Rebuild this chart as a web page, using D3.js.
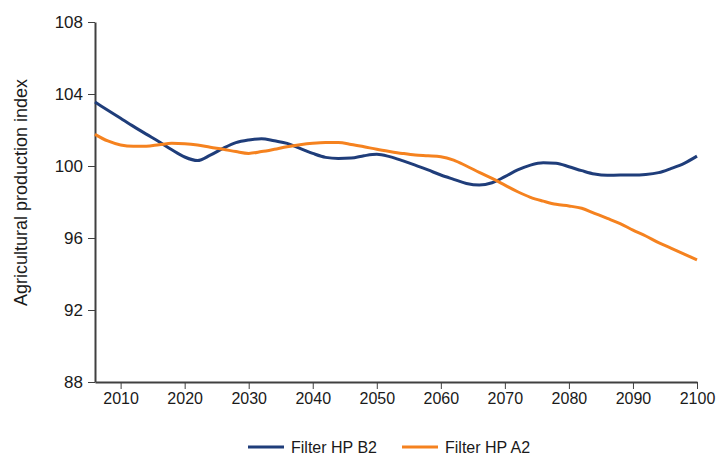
<!DOCTYPE html>
<html>
<head>
<meta charset="utf-8">
<script src="https://cdn.jsdelivr.net/npm/d3@7"></script>
<style>
  body { margin: 0; background: #fff; }
  svg { display: block; font-family: "Liberation Sans", Arial, sans-serif; }
</style>
</head>
<body>
<svg id="chart" width="717" height="455"></svg>
<script>
const years = [2006,2008,2010,2012,2014,2016,2018,2020,2022,2024,2026,2028,2030,2032,2034,2036,2038,2040,2042,2044,2046,2048,2050,2052,2054,2056,2058,2060,2062,2064,2066,2068,2070,2072,2074,2076,2078,2080,2082,2084,2086,2088,2090,2092,2094,2096,2098,2100];
const filterB2 = [103.55,103.1,102.65,102.2,101.77,101.35,100.9,100.5,100.3,100.6,100.98,101.3,101.45,101.52,101.4,101.26,100.98,100.7,100.48,100.42,100.44,100.57,100.65,100.52,100.3,100.05,99.78,99.5,99.26,99.03,98.94,99.07,99.41,99.78,100.05,100.18,100.15,99.96,99.74,99.55,99.48,99.5,99.5,99.53,99.63,99.87,100.15,100.55];
const filterA2 = [101.76,101.39,101.17,101.1,101.1,101.18,101.26,101.24,101.17,101.04,100.93,100.8,100.7,100.8,100.93,101.07,101.18,101.26,101.3,101.3,101.2,101.07,100.93,100.81,100.7,100.61,100.57,100.52,100.33,100.0,99.65,99.31,98.94,98.57,98.26,98.05,97.87,97.78,97.65,97.37,97.09,96.8,96.44,96.11,95.74,95.43,95.11,94.78];
const seriesNames = ["Filter HP B2", "Filter HP A2"];
const seriesColors = ["#1f3d7a", "#f5821f"];
const xTicks = [2010,2020,2030,2040,2050,2060,2070,2080,2090,2100];
const yTicks = [88,92,96,100,104,108];
const yTitle = "Agricultural production index";

const svg = d3.select("#chart");
const margin = {left: 95, right: 20, top: 22, bottom: 73};
const W = 717, H = 455;
const x = d3.scaleLinear().domain([2006, 2100]).range([margin.left, W - margin.right]);
const y = d3.scaleLinear().domain([88, 108]).range([H - margin.bottom, margin.top]);
const axisColor = "#404040";

const gx = svg.append("g").attr("transform", `translate(0,${H - margin.bottom})`)
  .call(d3.axisBottom(x).tickValues(xTicks).tickFormat(d3.format("d")).tickSize(7).tickPadding(4).tickSizeOuter(0));
const gy = svg.append("g").attr("transform", `translate(${margin.left},0)`)
  .call(d3.axisLeft(y).tickValues(yTicks).tickSize(7).tickPadding(5).tickSizeOuter(0));
[gx, gy].forEach(g => {
  g.select(".domain").attr("stroke", axisColor).attr("stroke-width", 2);
  g.selectAll(".tick line").attr("stroke", axisColor).attr("stroke-width", 1);
  g.selectAll(".tick text").attr("fill", "#1a1a1a").style("font-family", "'Liberation Sans', Arial, sans-serif");
});
gx.selectAll(".tick text").style("font-size", "16px");
gy.selectAll(".tick text").style("font-size", "17px");

svg.append("text")
  .attr("transform", `translate(27,192.5) rotate(-90)`)
  .attr("text-anchor", "middle")
  .attr("fill", "#1a1a1a")
  .style("font-size", "18px")
  .text(yTitle);

const line = d3.line().x((d, i) => x(years[i])).y(d => y(d)).curve(d3.curveMonotoneX);
[filterB2, filterA2].forEach((s, i) => {
  svg.append("path").datum(s).attr("d", line).attr("fill", "none")
    .attr("stroke", seriesColors[i]).attr("stroke-width", 3).attr("stroke-linejoin", "round");
});

const legendX = [248, 402];
seriesNames.forEach((n, i) => {
  const g = svg.append("g").attr("transform", `translate(${legendX[i]},447)`);
  g.append("line").attr("x1", 0).attr("x2", 36).attr("y1", 0).attr("y2", 0)
    .attr("stroke", seriesColors[i]).attr("stroke-width", 3);
  g.append("text").attr("x", 43).attr("y", 6).attr("fill", "#1a1a1a").style("font-size", "16px").text(n);
});
</script>
</body>
</html>
